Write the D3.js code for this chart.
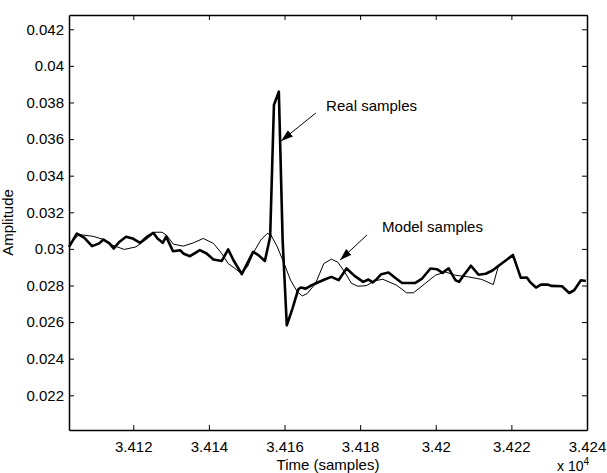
<!DOCTYPE html>
<html>
<head>
<meta charset="utf-8">
<script src="https://cdn.jsdelivr.net/npm/d3@7"></script>
<style>
  body { margin: 0; background: #fff; }
  text { font-family: "Liberation Sans", Arial, sans-serif; fill: #000; }
</style>
</head>
<body>
<svg id="chart" width="607" height="473"></svg>
<script>
// real (thick) samples
var realTime = [34103.0, 34105.1, 34107.0, 34109.1, 34111.0, 34112.1, 34113.7, 34114.8, 34116.3, 34118.1,
  34119.8, 34121.8, 34123.8, 34125.3, 34126.4, 34127.8, 34128.7, 34130.5, 34132.4, 34133.2,
  34135.0, 34137.6, 34139.4, 34141.2, 34143.4, 34145.1, 34146.5, 34148.7, 34151.7, 34153.1,
  34154.8, 34156.2, 34157.2, 34158.5, 34159.5, 34160.6, 34162.1, 34163.6, 34164.3, 34165.6,
  34167.1, 34168.2, 34170.6, 34172.4, 34174.3, 34176.4, 34178.6, 34180.8, 34182.2, 34183.3,
  34184.3, 34185.6, 34187.5, 34189.5, 34191.1, 34194.6, 34196.4, 34198.6, 34200.3, 34201.8,
  34203.4, 34205.2, 34206.2, 34207.4, 34209.3, 34211.3, 34213.2, 34215.0, 34216.8, 34218.6,
  34220.4, 34222.5, 34224.1, 34224.9, 34226.5, 34227.8, 34229.6, 34230.5, 34233.4, 34235.3,
  34236.6, 34238.4, 34239.7]
var realAmp = [0.03011, 0.03084, 0.03062, 0.03015, 0.03030, 0.03051, 0.03030, 0.03002, 0.03038, 0.03066,
  0.03057, 0.03033, 0.03069, 0.03088, 0.03057, 0.03033, 0.03067, 0.02987, 0.02993, 0.02975,
  0.02960, 0.02993, 0.02975, 0.02942, 0.02934, 0.02997, 0.02938, 0.02862, 0.02984, 0.02966,
  0.02934, 0.03066, 0.03786, 0.03859, 0.03048, 0.02583, 0.02674, 0.02778, 0.02789, 0.02783,
  0.02801, 0.02811, 0.02833, 0.02847, 0.02829, 0.02893, 0.02851, 0.02820, 0.02833, 0.02817,
  0.02833, 0.02862, 0.02871, 0.02838, 0.02814, 0.02814, 0.02838, 0.02893, 0.02889, 0.02869,
  0.02894, 0.02829, 0.02820, 0.02856, 0.02908, 0.02859, 0.02864, 0.02882, 0.02911, 0.02938,
  0.02967, 0.02842, 0.02844, 0.02820, 0.02789, 0.02805, 0.02805, 0.02798, 0.02796, 0.02759,
  0.02774, 0.02829, 0.02825]

// model (thin) samples
var modelTime = [34103.0, 34105.7, 34109.3, 34111.9, 34114.6, 34117.6, 34120.7, 34123.8, 34125.7, 34127.6,
  34128.8, 34130.6, 34133.2, 34135.9, 34138.5, 34141.2, 34143.4, 34145.1, 34146.9, 34148.5,
  34150.2, 34151.9, 34153.7, 34155.4, 34156.3, 34158.1, 34159.9, 34161.6, 34163.4, 34164.7,
  34166.0, 34168.2, 34170.4, 34172.4, 34174.1, 34175.9, 34177.7, 34179.4, 34181.6, 34183.9,
  34186.0, 34189.7, 34192.3, 34194.1, 34197.2, 34199.9, 34202.5, 34205.2, 34208.7, 34212.2,
  34215.2, 34216.4, 34216.8]
var modelAmp = [0.03026, 0.03078, 0.03069, 0.03053, 0.03020, 0.02997, 0.03011, 0.03057, 0.03091, 0.03091,
  0.03075, 0.03026, 0.03015, 0.03033, 0.03057, 0.03030, 0.02975, 0.02920, 0.02893, 0.02867,
  0.02902, 0.02984, 0.03048, 0.03084, 0.03080, 0.03011, 0.02920, 0.02829, 0.02765, 0.02743,
  0.02756, 0.02811, 0.02920, 0.02944, 0.02927, 0.02874, 0.02812, 0.02796, 0.02799, 0.02826,
  0.02834, 0.02801, 0.02760, 0.02760, 0.02811, 0.02856, 0.02874, 0.02856, 0.02847, 0.02833,
  0.02805, 0.02894, 0.02911]

var xTicks = [34120, 34140, 34160, 34180, 34200, 34220, 34240]
var yTicks = [0.022, 0.024, 0.026, 0.028, 0.03, 0.032, 0.034, 0.036, 0.038, 0.04, 0.042]

var svg = d3.select("#chart"),
    margin = {top: 15, right: 20, bottom: 43, left: 69},
    width = +svg.attr("width") - margin.left - margin.right,
    height = +svg.attr("height") - margin.top - margin.bottom;

var g = svg.append("g")
    .attr("transform", "translate(" + margin.left + "," + margin.top + ")");

var x = d3.scaleLinear().domain([34103, 34240]).range([0, width])
var y = d3.scaleLinear().domain([0.020104, 0.042781]).range([height, 0])

var fmt = d => String(+d.toFixed(3))
var fmtX = d => String(+(d / 1e4).toFixed(3))

// axes, matlab style: ticks pointing in, on all four sides
g.append("g")
  .attr("transform", "translate(0," + height + ")")
  .call(d3.axisBottom(x).tickValues(xTicks).tickFormat(fmtX).tickSizeInner(-5).tickSizeOuter(0).tickPadding(11))
g.append("g")
  .call(d3.axisTop(x).tickValues(xTicks).tickFormat("").tickSizeInner(-5).tickSizeOuter(0))
g.append("g")
  .call(d3.axisLeft(y).tickValues(yTicks).tickFormat(fmt).tickSizeInner(-5).tickSizeOuter(0).tickPadding(5))
g.append("g")
  .attr("transform", "translate(" + width + ",0)")
  .call(d3.axisRight(y).tickValues(yTicks).tickFormat("").tickSizeInner(-5).tickSizeOuter(0))

g.selectAll(".domain").attr("stroke", "#000").attr("stroke-width", 1.5)
g.selectAll(".tick line").attr("stroke", "#000")
g.selectAll(".tick text").style("font-size", "15px").style("font-family", "Liberation Sans, Arial, sans-serif")

var line = d3.line().x(d => x(d[0])).y(d => y(d[1]))

g.append("path")
  .datum(modelTime.map((t, i) => [t, modelAmp[i]]))
  .attr("d", line)
  .attr("fill", "none")
  .attr("stroke", "#000")
  .attr("stroke-width", 1)

g.append("path")
  .datum(realTime.map((t, i) => [t, realAmp[i]]))
  .attr("d", line)
  .attr("fill", "none")
  .attr("stroke", "#000")
  .attr("stroke-width", 2.6)
  .attr("stroke-linejoin", "round")

// arrow head
svg.append("defs").append("marker")
  .attr("id", "head")
  .attr("viewBox", "0 0 12 10")
  .attr("refX", 12).attr("refY", 5)
  .attr("markerWidth", 12).attr("markerHeight", 10)
  .attr("markerUnits", "userSpaceOnUse")
  .attr("orient", "auto")
  .append("path").attr("d", "M0,1 L12,5 L0,9 Z").attr("fill", "#000")

var notes = [
  {text: "Real samples", tx: 34171, ta: 0.03754, x1: 34168.3, a1: 0.03743, x2: 34159.1, a2: 0.03590},
  {text: "Model samples", tx: 34185.8, ta: 0.03092, x1: 34181.8, a1: 0.03076, x2: 34174.7, a2: 0.02939}
]

notes.forEach(n => {
  g.append("line")
    .attr("x1", x(n.x1)).attr("y1", y(n.a1))
    .attr("x2", x(n.x2)).attr("y2", y(n.a2))
    .attr("stroke", "#000").attr("stroke-width", 1)
    .attr("marker-end", "url(#head)")
  g.append("text")
    .attr("x", x(n.tx)).attr("y", y(n.ta))
    .style("font-size", "15px")
    .text(n.text)
})

// axis titles
svg.append("text")
  .attr("transform", "translate(13," + (margin.top + height / 2) + ") rotate(-90)")
  .attr("text-anchor", "middle")
  .style("font-size", "15px")
  .text("Amplitude")

svg.append("text")
  .attr("x", margin.left + width / 2).attr("y", 470)
  .attr("text-anchor", "middle")
  .style("font-size", "15px")
  .text("Time (samples)")

var ex = svg.append("text")
  .attr("x", 557).attr("y", 471)
  .style("font-size", "14px")
ex.append("tspan").text("x 10")
ex.append("tspan").attr("dy", -6).style("font-size", "10px").text("4")
</script>
</body>
</html>
